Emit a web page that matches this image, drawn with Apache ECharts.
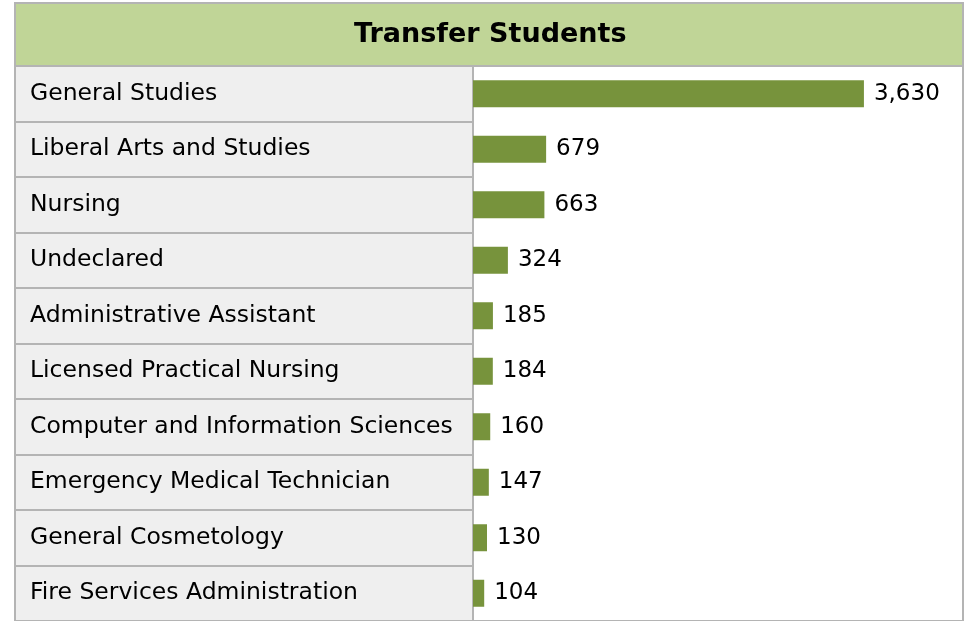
<!DOCTYPE html>
<html>
<head>
<meta charset="utf-8">
<script src="https://cdn.jsdelivr.net/npm/echarts@6/dist/echarts.min.js"></script>
<style>
  html, body { margin: 0; padding: 0; background: #ffffff; }
  #chart { width: 969px; height: 621px; }
</style>
</head>
<body>
<div id="chart"></div>
<script>
// Programs with the most transfer students
const programs = [
  'General Studies',
  'Liberal Arts and Studies',
  'Nursing',
  'Undeclared',
  'Administrative Assistant',
  'Licensed Practical Nursing',
  'Computer and Information Sciences',
  'Emergency Medical Technician',
  'General Cosmetology',
  'Fire Services Administration'
];
const students = [3630, 679, 663, 324, 185, 184, 160, 147, 130, 104];
const chartTitle = 'Transfer Students';

const FONT = 'DejaVu Sans';
const GRID_COLOR = '#b4b4b4';
const TOP = 66;
const ROW_H = 55.8;
const TABLE_H = ROW_H * programs.length;

const chart = echarts.init(document.getElementById('chart'), null, { renderer: 'canvas' });

chart.setOption({
  backgroundColor: '#ffffff',
  animation: false,
  title: {
    text: chartTitle,
    left: 349,
    top: 16,
    textStyle: { fontFamily: FONT, fontSize: 27, fontWeight: 'bold', color: '#000000' }
  },
  graphic: [{
    type: 'rect',
    z: -1,
    shape: { x: 15, y: 3, width: 948, height: TOP - 3 },
    style: { fill: '#c0d597', stroke: GRID_COLOR, lineWidth: 2 }
  }],
  grid: [
    // left table with program names
    {
      left: 15, top: TOP, width: 458, height: TABLE_H,
      show: true, backgroundColor: '#efefef',
      borderColor: GRID_COLOR, borderWidth: 2
    },
    // bar area
    {
      left: 473, top: TOP, width: 490, height: TABLE_H,
      show: true, backgroundColor: '#ffffff',
      borderColor: GRID_COLOR, borderWidth: 2
    }
  ],
  xAxis: [
    { gridIndex: 0, type: 'value', min: 0, max: 1, show: false },
    { gridIndex: 1, type: 'value', min: 0, max: 4550, show: false }
  ],
  yAxis: [
    {
      gridIndex: 0, type: 'category', data: programs, inverse: true,
      axisLine: { show: false }, axisTick: { show: false },
      splitLine: { show: true, interval: 0, lineStyle: { color: GRID_COLOR, width: 2 } },
      axisLabel: {
        inside: true, align: 'left', margin: 15, interval: 0,
        fontFamily: FONT, fontSize: 23.5, color: '#000000'
      }
    },
    {
      gridIndex: 1, type: 'category', data: programs, inverse: true,
      show: false
    }
  ],
  series: [{
    type: 'bar',
    xAxisIndex: 1, yAxisIndex: 1,
    data: students,
    barWidth: 27,
    itemStyle: { color: '#77933c' },
    label: {
      show: true, position: 'right', distance: 10,
      fontFamily: FONT, fontSize: 23, color: '#000000',
      formatter: p => p.value.toLocaleString('en-US')
    }
  }]
});
</script>
</body>
</html>
